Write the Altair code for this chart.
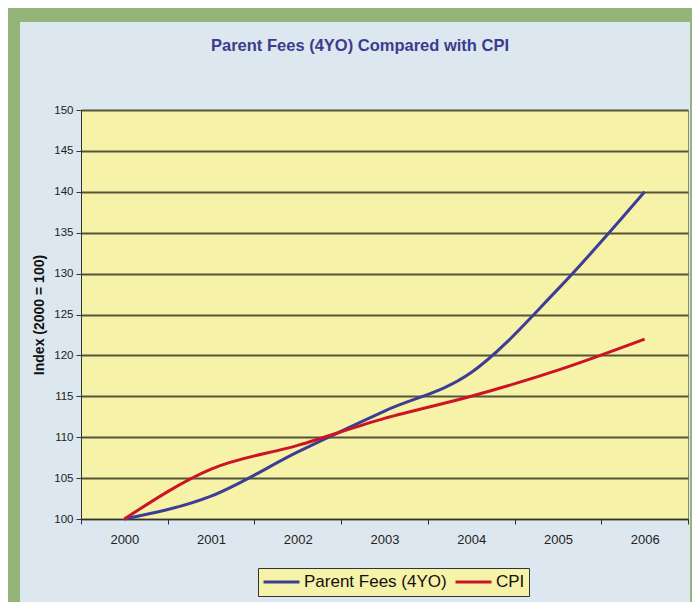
import altair as alt
import pandas as pd

years = ["2000", "2001", "2002", "2003", "2004", "2005", "2006"]
parent_fees = [100, 102.8, 108.2, 113.2, 117.9, 128.1, 140]
cpi = [100, 106.1, 109.0, 112.3, 115.0, 118.2, 122]
series_names = ["Parent Fees (4YO)", "CPI"]
series_colors = ["#3d3d96", "#cc1424"]
y_ticks = list(range(100, 151, 5))
title_text = "Parent Fees (4YO) Compared with CPI"
y_title = "Index (2000 = 100)"

FONT = "Liberation Sans"

rows = []
for name, vals in zip(series_names, [parent_fees, cpi]):
    for yr, v in zip(years, vals):
        rows.append({"Year": yr, "Value": v, "Series": name})
df = pd.DataFrame(rows)

lines = alt.Chart(df).mark_line(strokeWidth=3, interpolate="monotone").encode(
    x=alt.X(
        "Year:O",
        bandPosition=0.5,
        scale=alt.Scale(type="band", paddingInner=0, paddingOuter=0),
        axis=alt.Axis(
            title=None, labelAngle=0, tickBand="extent", tickSize=5,
            tickColor="#333333", domainColor="#333333", labelFont=FONT,
            labelFontSize=13, labelColor="#222222", labelPadding=9, grid=False,
        ),
    ),
    y=alt.Y(
        "Value:Q",
        scale=alt.Scale(domain=[100, 150], nice=False, zero=False),
        axis=alt.Axis(
            values=y_ticks, title=y_title, grid=True, gridColor="#55553a",
            gridWidth=1.8, tickSize=5, tickColor="#333333", domainColor="#333333",
            labelFont=FONT, labelFontSize=11.5, labelColor="#222222", labelPadding=3,
            titleFont=FONT, titleFontSize=14, titleFontWeight="bold",
            titleColor="#111111", titlePadding=7,
        ),
    ),
    color=alt.Color(
        "Series:N",
        scale=alt.Scale(domain=series_names, range=series_colors),
        legend=alt.Legend(
            title=None, orient="none", legendX=177, legendY=458,
            direction="horizontal", fillColor="#f6f2a8", strokeColor="#333333",
            padding=4, labelFont=FONT, labelFontSize=17, labelColor="#111111",
            symbolType="stroke", symbolSize=1296, symbolStrokeWidth=3,
            clipHeight=20, labelOffset=3, columnPadding=7,
        ),
    ),
)

frame = alt.Chart(pd.DataFrame({"a": [0]})).mark_rect(
    filled=False, stroke="#94b47a", strokeWidth=14
).encode(
    x=alt.value(-68), x2=alt.value(616), y=alt.value(-95), y2=alt.value(700)
)

title_mark = alt.Chart(pd.DataFrame({"t": [title_text]})).mark_text(
    font=FONT, fontSize=16.5, fontWeight="bold", color="#3c3c8e",
    baseline="middle", align="center",
).encode(text="t:N", x=alt.value(279), y=alt.value(-64))

chart = alt.layer(frame, lines, title_mark).properties(
    width=607,
    height=409,
    autosize=alt.AutoSizeParams(type="none"),
    padding={"left": 73, "top": 102, "right": 4, "bottom": 83},
    background="#dde7ef",
).configure_view(
    fill="#f6f2a8", stroke="#8a8a7a", strokeWidth=1
)

chart.save("out.html", embed_options={"renderer": "svg", "actions": False})
